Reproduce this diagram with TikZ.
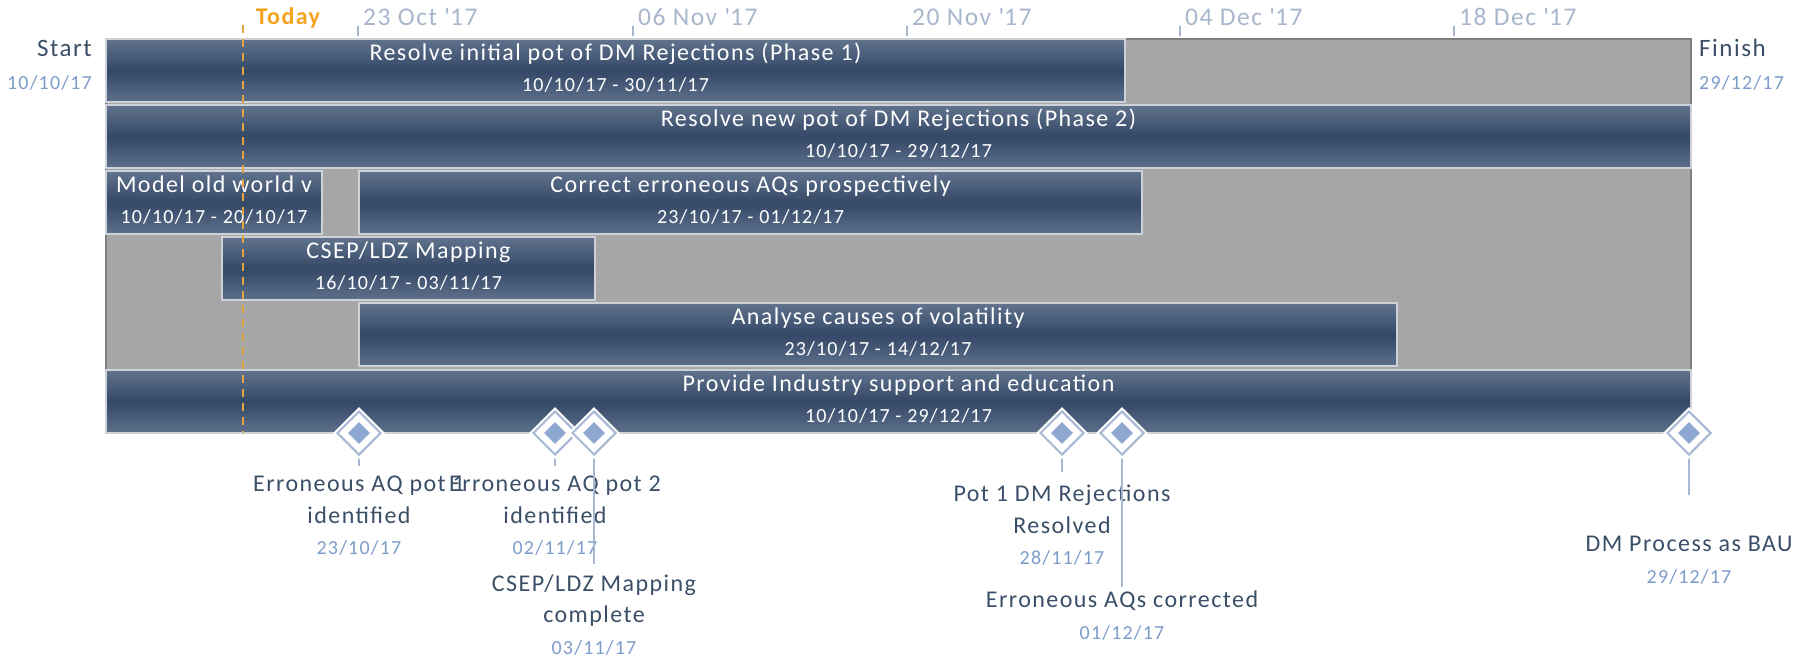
\documentclass[tikz,border=0pt]{standalone}
\usepackage{fontspec}
\setmainfont{Carlito}[LetterSpace=6]
\usetikzlibrary{shapes.geometric}

\definecolor{barTop}{HTML}{61738D}
\definecolor{barMid}{HTML}{344867}
\definecolor{barBot}{HTML}{5D708B}
\definecolor{barEdge}{HTML}{CDD2D9}
\definecolor{bgGrey}{HTML}{A6A6A6}
\definecolor{bgEdge}{HTML}{7F7F7F}
\definecolor{slate}{HTML}{3A4F67}
\definecolor{dateBlue}{HTML}{7D9CCA}
\definecolor{axisBlue}{HTML}{A8B6CC}
\definecolor{todayOrange}{HTML}{F5A31E}
\definecolor{todayLine}{HTML}{E2A43C}
\definecolor{msLine}{HTML}{A7B8D5}
\definecolor{msFill}{HTML}{8DA7D0}

\newcommand\ganttTitle{\fontsize{24}{31.5}\selectfont}
\newcommand\ganttAxis{\fontsize{25.5}{30}\selectfont}
\newcommand\ganttDate{\fontsize{20}{31.5}\selectfont}
\newcommand\ganttEnd{\fontsize{25}{30}\selectfont}
\newcommand\msdate[1]{{\color{dateBlue}\ganttDate #1}}

\begin{document}
\begin{tikzpicture}[x=1pt, y=-1pt,
  chartbg/.style={draw=bgEdge, fill=bgGrey, line width=2, anchor=north west, inner sep=0},
  bar/.style={draw=barEdge, line width=2, top color=barTop, bottom color=barBot, middle color=barMid, anchor=north west, inner sep=0, minimum height=63},
  bartitle/.style={text=white, font=\ganttTitle, inner sep=0, text height=15.5, text depth=0},
  bardate/.style={text=white, font=\ganttDate, inner sep=0, text height=13, text depth=0},
  axistick/.style={axisBlue, line width=2},
  ticklabel/.style={text=axisBlue, font=\ganttAxis, anchor=west, inner sep=0, text height=16, text depth=0},
  endlabel/.style={text=slate, font=\ganttEnd, inner sep=0, text height=16, text depth=0},
  enddate/.style={text=dateBlue, font=\ganttDate, inner sep=0, text height=13, text depth=0},
  todayline/.style={todayLine, line width=2.5, dash pattern=on 8pt off 6pt},
  msout/.style={diamond, aspect=1, minimum size=44, inner sep=0, draw=msLine, line width=2, fill=white, preaction={draw=white, line width=6}},
  msin/.style={diamond, aspect=1, minimum size=22, inner sep=0, fill=msFill},
  stem/.style={msLine, line width=2},
  mslabel/.style={text=slate, font=\ganttTitle, align=center, anchor=north, inner sep=0}
]
\useasboundingbox (0,0) rectangle (1806,656);

% time axis
\foreach \x/\lab [count=\i] in {358/23 Oct \textquotesingle17, 633/06 Nov \textquotesingle17, 907/20 Nov \textquotesingle17, 1180/04 Dec \textquotesingle17, 1454/18 Dec \textquotesingle17}{
  \draw[axistick] (\x,26) -- (\x,36);
  \node[ticklabel] (tk\i) at (\x+5,17) {\lab};
}

\node[endlabel, anchor=east] (start) at (92,48) {Start};
\node[enddate, anchor=east] (startdate) at (92,83) {10/10/17};
\node[endlabel, anchor=west] (finish) at (1699,48) {Finish};
\node[enddate, anchor=west] (finishdate) at (1699,83) {29/12/17};

% chart area and tasks
\node[chartbg, minimum width=1585, minimum height=331] (chart) at (105,38) {};

\node[bar, minimum width=1019] (p1) at (105,38) {};
\node[bartitle] (p1t) at ([yshift=-15pt]p1.north) {Resolve initial pot of DM Rejections (Phase 1)};
\node[bardate] (p1d) at ([yshift=-47pt]p1.north) {10/10/17 - 30/11/17};

\node[bar, minimum width=1585] (p2) at (105,104) {};
\node[bartitle] (p2t) at ([yshift=-15pt]p2.north) {Resolve new pot of DM Rejections (Phase 2)};
\node[bardate] (p2d) at ([yshift=-47pt]p2.north) {10/10/17 - 29/12/17};

\node[bar, minimum width=216] (model) at (105,170) {};
\node[bartitle] (modelt) at ([yshift=-15pt]model.north) {Model old world v};
\node[bardate] (modeld) at ([yshift=-47pt]model.north) {10/10/17 - 20/10/17};

\node[bar, minimum width=783] (correct) at (358,170) {};
\node[bartitle] (correctt) at ([yshift=-15pt]correct.north) {Correct erroneous AQs prospectively};
\node[bardate] (correctd) at ([yshift=-47pt]correct.north) {23/10/17 - 01/12/17};

\node[bar, minimum width=373] (csep) at (221,236) {};
\node[bartitle] (csept) at ([yshift=-15pt]csep.north) {CSEP/LDZ Mapping};
\node[bardate] (csepd) at ([yshift=-47pt]csep.north) {16/10/17 - 03/11/17};

\node[bar, minimum width=1038] (vol) at (358,302) {};
\node[bartitle] (volt) at ([yshift=-15pt]vol.north) {Analyse causes of volatility};
\node[bardate] (vold) at ([yshift=-47pt]vol.north) {23/10/17 - 14/12/17};

\node[bar, minimum width=1585] (support) at (105,369) {};
\node[bartitle] (supportt) at ([yshift=-15pt]support.north) {Provide Industry support and education};
\node[bardate] (supportd) at ([yshift=-47pt]support.north) {10/10/17 - 29/12/17};

% today marker
\coordinate (todaytop) at (243,25);
\coordinate (todaybot) at (243,433);
\draw[todayline] (todaytop) -- (todaybot);
\node[text=todayOrange, font=\ganttTitle\bfseries, inner sep=0, text height=15, text depth=0] (today) at (288,17) {Today};

% milestones
\node[mslabel] (l1) at (359,476) {Erroneous AQ pot 1\\identified\\\msdate{23/10/17}};
\node[mslabel] (l2) at (555,476) {Erroneous AQ pot 2\\identified\\\msdate{02/11/17}};
\node[mslabel] (l3) at (594,574.5) {CSEP/LDZ Mapping\\complete\\\msdate{03/11/17}};
\node[mslabel] (l4) at (1062,485) {Pot 1 DM Rejections\\Resolved\\\msdate{28/11/17}};
\node[mslabel] (l5) at (1122,591) {Erroneous AQs corrected\\\msdate{01/12/17}};
\node[mslabel] (l6) at (1689,536) {DM Process as BAU\\\msdate{29/12/17}};

\coordinate (s1) at (359,466);
\coordinate (s2) at (555,466);
\coordinate (s3) at (594,564);
\coordinate (s4) at (1062,472);
\coordinate (s5) at (1122,587);
\coordinate (s6) at (1689,495);

\foreach \x [count=\i] in {359,555,594,1062,1122,1689}{
  \draw[stem] (\x,450) -- (s\i);
  \node[msout] (m\i) at (\x,433) {};
  \node[msin] (mi\i) at (m\i) {};
}
\end{tikzpicture}
\end{document}
